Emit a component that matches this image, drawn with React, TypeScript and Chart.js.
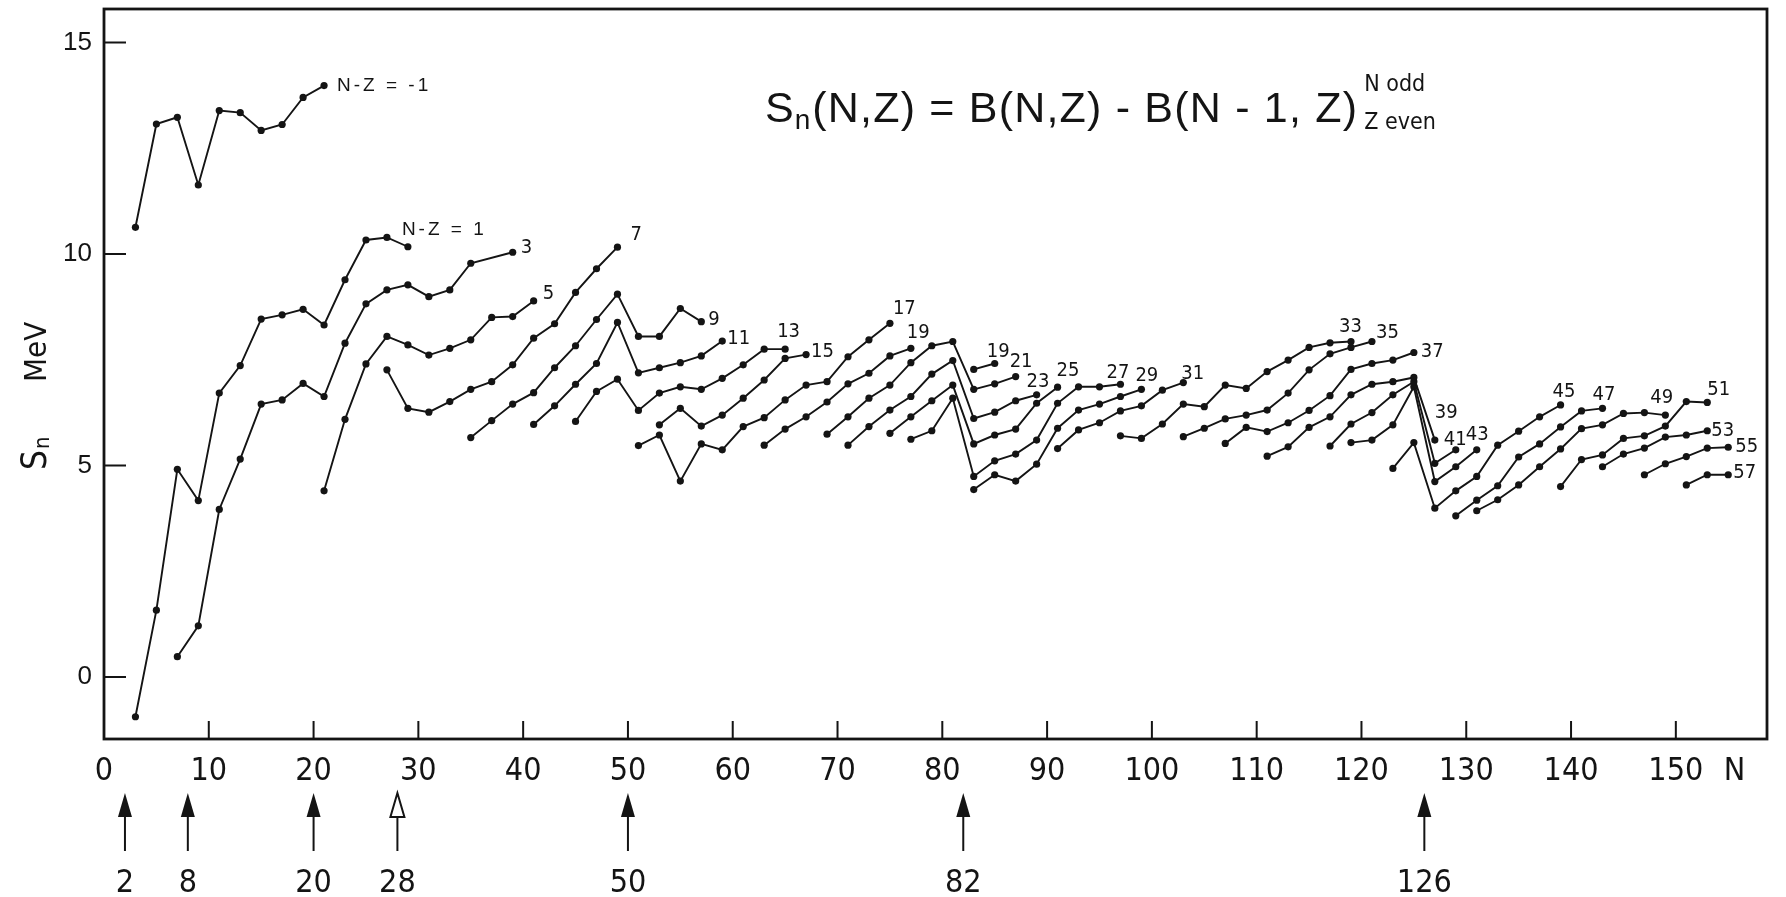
import React, { useEffect, useRef } from 'react';
import { Chart, registerables } from 'chart.js';

Chart.register(...registerables);

// ---- data: [N, Sn (MeV)] for each N-Z chain (N odd, Z even) ----
const snNZm1 = [[3, 10.63], [5, 13.07], [7, 13.23], [9, 11.63], [11, 13.39], [13, 13.34], [15, 12.92], [17, 13.06], [19, 13.7], [21, 13.98]];
const snNZ1 = [[3, -0.94], [5, 1.58], [7, 4.91], [9, 4.17], [11, 6.71], [13, 7.36], [15, 8.46], [17, 8.56], [19, 8.69], [21, 8.32], [23, 9.39], [25, 10.33], [27, 10.39], [29, 10.17]];
const snNZ3 = [[7, 0.48], [9, 1.21], [11, 3.96], [13, 5.15], [15, 6.45], [17, 6.55], [19, 6.94], [21, 6.63], [23, 7.89], [25, 8.82], [27, 9.15], [29, 9.27], [31, 8.99], [33, 9.15], [35, 9.78], [39, 10.04]];
const snNZ5 = [[21, 4.4], [23, 6.09], [25, 7.4], [27, 8.05], [29, 7.85], [31, 7.61], [33, 7.77], [35, 7.97], [37, 8.5], [39, 8.52], [41, 8.89]];
const snNZ7 = [[27, 7.26], [29, 6.35], [31, 6.26], [33, 6.51], [35, 6.8], [37, 6.98], [39, 7.38], [41, 8.01], [43, 8.35], [45, 9.09], [47, 9.65], [49, 10.16]];
const snNZ9 = [[35, 5.66], [37, 6.06], [39, 6.45], [41, 6.72], [43, 7.31], [45, 7.83], [47, 8.45], [49, 9.05], [51, 8.05], [53, 8.05], [55, 8.71], [57, 8.4]];
const snNZ11 = [[41, 5.97], [43, 6.41], [45, 6.92], [47, 7.41], [49, 8.38], [51, 7.19], [53, 7.31], [55, 7.43], [57, 7.59], [59, 7.94]];
const snNZ13 = [[45, 6.04], [47, 6.75], [49, 7.04], [51, 6.3], [53, 6.71], [55, 6.86], [57, 6.8], [59, 7.06], [61, 7.38], [63, 7.75], [65, 7.75]];
const snNZ15 = [[53, 5.96], [55, 6.35], [57, 5.93], [59, 6.19], [61, 6.59], [63, 7.02], [65, 7.53], [67, 7.62]];
const snNZ17 = [[51, 5.47], [53, 5.72], [55, 4.63], [57, 5.51], [59, 5.37], [61, 5.92], [63, 6.13], [65, 6.55], [67, 6.9], [69, 6.98], [71, 7.57], [73, 7.97], [75, 8.36]];
const snNZ19 = [[63, 5.48], [65, 5.86], [67, 6.15], [69, 6.5], [71, 6.93], [73, 7.18], [75, 7.59], [77, 7.77]];
const snNZ19b = [[83, 7.27], [85, 7.41]];
const snNZ21 = [[69, 5.74], [71, 6.15], [73, 6.59], [75, 6.9], [77, 7.43], [79, 7.83], [81, 7.93], [83, 6.8], [85, 6.93], [87, 7.1]];
const snNZ23 = [[71, 5.48], [73, 5.92], [75, 6.31], [77, 6.63], [79, 7.16], [81, 7.48], [83, 6.11], [85, 6.26], [87, 6.53], [89, 6.67]];
const snNZ25 = [[75, 5.76], [77, 6.15], [79, 6.53], [81, 6.9], [83, 5.51], [85, 5.72], [87, 5.86], [89, 6.47], [91, 6.85]];
const snNZ27 = [[77, 5.62], [79, 5.82], [81, 6.59], [83, 4.74], [85, 5.11], [87, 5.27], [89, 5.6], [91, 6.47], [93, 6.86], [95, 6.86], [97, 6.92]];
const snNZ29 = [[83, 4.43], [85, 4.78], [87, 4.63], [89, 5.03], [91, 5.88], [93, 6.31], [95, 6.45], [97, 6.63], [99, 6.8]];
const snNZ31 = [[91, 5.4], [93, 5.84], [95, 6.01], [97, 6.29], [99, 6.41], [101, 6.78], [103, 6.96]];
const snNZ33 = [[97, 5.7], [99, 5.64], [101, 5.98], [103, 6.45], [105, 6.39], [107, 6.9], [109, 6.82], [111, 7.22], [113, 7.49], [115, 7.79], [117, 7.9], [119, 7.93]];
const snNZ35 = [[103, 5.68], [105, 5.88], [107, 6.1], [109, 6.19], [111, 6.31], [113, 6.71], [115, 7.26], [117, 7.64], [119, 7.79], [121, 7.93]];
const snNZ37 = [[107, 5.52], [109, 5.9], [111, 5.8], [113, 6.01], [115, 6.3], [117, 6.65], [119, 7.27], [121, 7.41], [123, 7.49], [125, 7.67]];
const snNZ39 = [[111, 5.22], [113, 5.44], [115, 5.9], [117, 6.15], [119, 6.67], [121, 6.92], [123, 6.98], [125, 7.08], [127, 5.6]];
const snNZ41 = [[117, 5.46], [119, 5.98], [121, 6.25], [123, 6.67], [125, 6.98], [127, 5.05], [129, 5.37]];
const snNZ43 = [[119, 5.54], [121, 5.6], [123, 5.96], [125, 6.86], [127, 4.62], [129, 4.97], [131, 5.37]];
const snNZ45 = [[123, 4.93], [125, 5.54], [127, 3.99], [129, 4.4], [131, 4.74], [133, 5.48], [135, 5.81], [137, 6.15], [139, 6.43]];
const snNZ47 = [[129, 3.81], [131, 4.18], [133, 4.52], [135, 5.2], [137, 5.51], [139, 5.91], [141, 6.29], [143, 6.35]];
const snNZ49 = [[131, 3.93], [133, 4.19], [135, 4.54], [137, 4.97], [139, 5.39], [141, 5.87], [143, 5.96], [145, 6.23], [147, 6.25], [149, 6.19]];
const snNZ51 = [[139, 4.5], [141, 5.14], [143, 5.25], [145, 5.64], [147, 5.7], [149, 5.93], [151, 6.51], [153, 6.49]];
const snNZ53 = [[143, 4.97], [145, 5.27], [147, 5.41], [149, 5.67], [151, 5.72], [153, 5.82]];
const snNZ55 = [[147, 4.78], [149, 5.04], [151, 5.21], [153, 5.41], [155, 5.43]];
const snNZ57 = [[151, 4.54], [153, 4.78], [155, 4.78]];

const seriesData = [snNZm1, snNZ1, snNZ3, snNZ5, snNZ7, snNZ9, snNZ11, snNZ13, snNZ15, snNZ17, snNZ19, snNZ19b, snNZ21, snNZ23, snNZ25, snNZ27, snNZ29, snNZ31, snNZ33, snNZ35, snNZ37, snNZ39, snNZ41, snNZ43, snNZ45, snNZ47, snNZ49, snNZ51, snNZ53, snNZ55, snNZ57];
const seriesLabels = ['N-Z = -1', 'N-Z = 1', '3', '5', '7', '9', '11', '13', '15', '17', '19', '19', '21', '23', '25', '27', '29', '31', '33', '35', '37', '39', '41', '43', '45', '47', '49', '51', '53', '55', '57'];
// label placement relative to the last point of each chain (px: left edge, vertical middle)
const labelOffsets = [[13, 0], [-6, -17], [8, -4], [9, -7], [13, -12], [7, -2], [5, -2], [-8, -17], [5, -3], [3, -15], [-4, -15], [-8, -12], [-6, -15], [-10, -13], [-1, -16], [-14, -11], [-6, -14], [-2, -9], [-12, -15], [4, -9], [7, -1], [0, -27], [-12, -10], [-11, -15], [-8, -13], [-10, -14], [-15, -17], [0, -13], [4, 0], [7, 0], [5, -2]];

const xTickValues = [0, 10, 20, 30, 40, 50, 60, 70, 80, 90, 100, 110, 120, 130, 140, 150];
const xAxisNamePos = 155.6;
const xAxisName = 'N';
const yTickValues = [0, 5, 10, 15];
const magicNumbers = [2, 8, 20, 28, 50, 82, 126];
const hollowArrowMagic = [28];
const formulaMain = '(N,Z) = B(N,Z) - B(N - 1, Z)';

const INK = '#141414';
const NARROW = '"Liberation Sans Narrow", "DejaVu Sans Condensed", "Liberation Sans", sans-serif';
const SANS = '"Liberation Sans", Arial, sans-serif';

const decorPlugin = {
  id: 'decor',
  afterDraw(chart: any) {
    const { ctx, chartArea, scales } = chart;
    const { left, right, top, bottom } = chartArea;
    const xs = scales.x;
    const ys = scales.y;
    ctx.save();
    ctx.strokeStyle = INK;
    ctx.fillStyle = INK;
    // frame
    ctx.lineWidth = 2.8;
    ctx.strokeRect(left, top, right - left, bottom - top);
    // inward tick marks
    ctx.lineWidth = 2;
    ctx.beginPath();
    xTickValues.forEach((v) => {
      if (v <= 0) return;
      const px = xs.getPixelForValue(v);
      ctx.moveTo(px, bottom);
      ctx.lineTo(px, bottom - 18);
    });
    yTickValues.forEach((v) => {
      const py = ys.getPixelForValue(v);
      ctx.moveTo(left, py);
      ctx.lineTo(left + 22, py);
    });
    ctx.stroke();

    // chain labels
    ctx.textAlign = 'left';
    ctx.textBaseline = 'middle';
    seriesData.forEach((s, i) => {
      const last = s[s.length - 1];
      const px = xs.getPixelForValue(last[0]);
      const py = ys.getPixelForValue(last[1]);
      const [dx, dy] = labelOffsets[i];
      const long = seriesLabels[i].length > 3;
      ctx.font = long ? `19px ${SANS}` : `20px ${NARROW}`;
      (ctx as any).letterSpacing = long ? '3px' : '0px';
      ctx.fillText(seriesLabels[i], px + dx, py + dy);
    });
    (ctx as any).letterSpacing = '0px';

    // magic-number arrows
    const tipY = bottom + 54;
    const baseY = bottom + 78;
    const endY = bottom + 112;
    magicNumbers.forEach((m) => {
      const px = xs.getPixelForValue(m);
      ctx.lineWidth = 2;
      ctx.beginPath();
      ctx.moveTo(px, baseY - 2);
      ctx.lineTo(px, endY);
      ctx.stroke();
      ctx.beginPath();
      ctx.moveTo(px, tipY);
      ctx.lineTo(px - 7, baseY);
      ctx.lineTo(px + 7, baseY);
      ctx.closePath();
      if (hollowArrowMagic.includes(m)) {
        ctx.fillStyle = '#fff';
        ctx.fill();
        ctx.lineWidth = 2;
        ctx.stroke();
        ctx.fillStyle = INK;
      } else {
        ctx.fill();
      }
      ctx.font = `32px ${NARROW}`;
      ctx.textAlign = 'center';
      ctx.textBaseline = 'middle';
      ctx.fillText(String(m), px, bottom + 145);
    });

    // formula
    ctx.textAlign = 'left';
    ctx.textBaseline = 'alphabetic';
    let fx = 765;
    const fy = 122;
    ctx.font = `43px ${SANS}`;
    ctx.fillText('S', fx, fy);
    fx += ctx.measureText('S').width + 1;
    ctx.font = `28px ${SANS}`;
    ctx.fillText('n', fx, fy + 7);
    fx += ctx.measureText('n').width + 2;
    ctx.font = `43px ${SANS}`;
    (ctx as any).letterSpacing = '1.2px';
    ctx.fillText(formulaMain, fx, fy);
    fx += ctx.measureText(formulaMain).width + 6;
    (ctx as any).letterSpacing = '0px';
    ctx.font = `23px ${NARROW}`;
    ctx.fillText('N odd', fx, fy - 31);
    ctx.fillText('Z even', fx, fy + 7);

    // y-axis title  S_n  MeV
    ctx.save();
    ctx.translate(left - 58, 470);
    ctx.rotate(-Math.PI / 2);
    ctx.textAlign = 'left';
    ctx.textBaseline = 'alphabetic';
    ctx.font = `35px ${NARROW}`;
    ctx.fillText('S', 0, 0);
    const sw = ctx.measureText('S').width;
    ctx.font = `22px ${NARROW}`;
    ctx.fillText('n', sw + 1, 3);
    ctx.font = `31px ${NARROW}`;
    ctx.fillText('MeV', 88, 0);
    ctx.restore();

    ctx.restore();
  },
};

export default function App() {
  const canvasRef = useRef<HTMLCanvasElement | null>(null);

  useEffect(() => {
    const canvas = canvasRef.current;
    if (!canvas) return;
    const datasets = seriesData.map((s, i) => ({
      label: seriesLabels[i],
      data: s.map(([n, v]) => ({ x: n, y: v })),
      borderColor: INK,
      backgroundColor: INK,
      borderWidth: 1.9,
      pointRadius: 3.6,
      pointHoverRadius: 3.6,
      pointBackgroundColor: INK,
      pointBorderWidth: 0,
      tension: 0,
      fill: false,
    }));
    const chart = new Chart(canvas, {
      type: 'line',
      data: { datasets },
      options: {
        responsive: false,
        animation: false,
        devicePixelRatio: 1,
        events: [],
        layout: { padding: { left: 0, right: 19, top: 9, bottom: 0 } },
        plugins: { legend: { display: false }, tooltip: { enabled: false }, title: { display: false } },
        scales: {
          x: {
            type: 'linear',
            min: 0,
            max: 158.7,
            grid: { display: false, drawTicks: false },
            border: { display: false },
            afterBuildTicks: (scale: any) => {
              scale.ticks = [...xTickValues, xAxisNamePos].map((v) => ({ value: v }));
            },
            afterFit: (scale: any) => {
              scale.height = 158;
              scale.paddingLeft = 0;
              scale.paddingRight = 0;
            },
            ticks: {
              color: INK,
              padding: 13,
              maxRotation: 0,
              autoSkip: false,
              font: { family: NARROW, size: 32 },
              callback: (value: any) => (value === xAxisNamePos ? xAxisName : String(value)),
            },
          },
          y: {
            type: 'linear',
            min: -1.466,
            max: 15.79,
            grid: { display: false, drawTicks: false },
            border: { display: false },
            afterBuildTicks: (scale: any) => {
              scale.ticks = yTickValues.map((v) => ({ value: v }));
            },
            afterFit: (scale: any) => {
              scale.width = 104;
              scale.paddingTop = 0;
              scale.paddingBottom = 0;
            },
            ticks: {
              color: INK,
              padding: 12,
              font: { family: SANS, size: 26 },
              callback: (value: any) => String(value),
            },
          },
        },
      },
      plugins: [decorPlugin],
    } as any);
    return () => chart.destroy();
  }, []);

  return (
    <div style={{ position: 'fixed', left: 0, top: 0, width: 1786, height: 897, background: '#fff' }}>
      <canvas ref={canvasRef} width={1786} height={897} style={{ display: 'block' }} />
    </div>
  );
}
